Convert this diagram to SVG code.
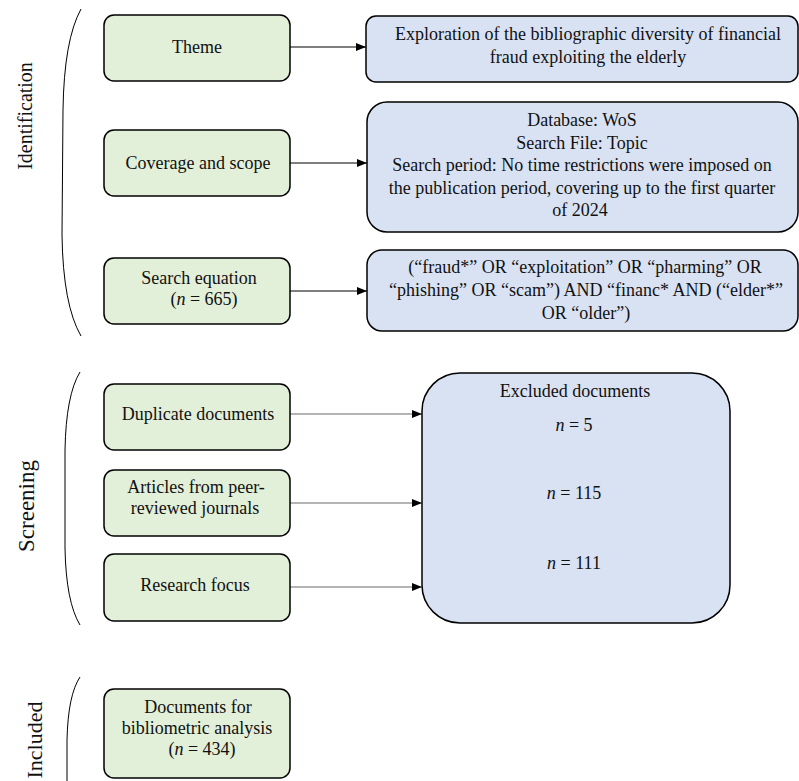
<svg xmlns="http://www.w3.org/2000/svg" width="799" height="781" viewBox="0 0 799 781">
  <defs>
    <marker id="arrow" viewBox="0 0 10 8" refX="10" refY="4" markerWidth="10" markerHeight="8" markerUnits="userSpaceOnUse" orient="auto">
      <path d="M0,0 L10,4 L0,8 Z" fill="#000"/>
    </marker>
    <style>
      text { font-family: "Liberation Serif", "Times New Roman", serif; font-size: 18px; fill: #111; text-anchor: middle; }
      .stage { font-size: 23px; }
      .green rect { fill: #E2EFD9; stroke: #000; stroke-width: 1.5; }
      .blue rect { fill: #D9E2F3; stroke: #000; stroke-width: 1.5; }
      .brace { fill: none; stroke: #000; stroke-width: 1; }
      .link { fill: none; stroke: #000; stroke-width: 1.2; marker-end: url(#arrow); }
      .link.soft { stroke: #6a6a6a; }
      .it { font-style: italic; }
    </style>
  </defs>

  <rect width="799" height="781" fill="#fff"/>

  <!-- stage labels and braces -->
  <g id="stage-identification">
    <text class="stage" style="font-size:20px" transform="translate(32,116) rotate(-90)">Identification</text>
    <path class="brace" d="M81,9 Q64,40 63,110 L62,235 Q63,305 81,336"/>
  </g>
  <g id="stage-screening">
    <text class="stage" transform="translate(34,506) rotate(-90)">Screening</text>
    <path class="brace" d="M80,372 Q66,395 65,450 L65,548 Q66,602 80,625"/>
  </g>
  <g id="stage-included">
    <text class="stage" style="font-size:22px" transform="translate(42,740) rotate(-90)">Included</text>
    <path class="brace" d="M80,677 Q68,695 67,740 L67,790"/>
  </g>

  <!-- connectors -->
  <g id="connectors">
    <line class="link" x1="290" y1="47" x2="366" y2="47"/>
    <line class="link" x1="290" y1="163" x2="367" y2="163"/>
    <line class="link" x1="290" y1="291" x2="367" y2="291"/>
    <line class="link soft" x1="290" y1="414" x2="422" y2="414"/>
    <line class="link soft" x1="290" y1="503" x2="422" y2="503"/>
    <line class="link soft" x1="290" y1="587" x2="422" y2="587"/>
  </g>

  <!-- identification nodes -->
  <g id="theme" class="green">
    <rect x="104" y="15" width="186" height="66" rx="10"/>
    <text x="197" y="53">Theme</text>
  </g>
  <g id="theme-detail" class="blue">
    <rect x="366" y="16" width="432" height="66" rx="10"/>
    <text x="588" y="40">Exploration of the bibliographic diversity of financial</text>
    <text x="588" y="63">fraud exploiting the elderly</text>
  </g>

  <g id="coverage" class="green">
    <rect x="104" y="130" width="186" height="66" rx="10"/>
    <text x="198" y="169">Coverage and scope</text>
  </g>
  <g id="coverage-detail" class="blue">
    <rect x="367" y="102" width="431" height="130" rx="20"/>
    <text x="582" y="126">Database: WoS</text>
    <text x="582" y="149">Search File: Topic</text>
    <text x="582" y="171">Search period: No time restrictions were imposed on</text>
    <text x="582" y="194">the publication period, covering up to the first quarter</text>
    <text x="580" y="216">of 2024</text>
  </g>

  <g id="search-equation" class="green">
    <rect x="104" y="258" width="186" height="66" rx="10"/>
    <text x="199" y="284">Search equation</text>
    <text x="204" y="305">(<tspan class="it">n</tspan> = 665)</text>
  </g>
  <g id="search-detail" class="blue">
    <rect x="367" y="250" width="431" height="81" rx="15"/>
    <text x="585" y="273">(“fraud*” OR “exploitation” OR “pharming” OR</text>
    <text x="586" y="296">“phishing” OR “scam”) AND “financ* AND (“elder*”</text>
    <text x="586" y="319">OR “older”)</text>
  </g>

  <!-- screening nodes -->
  <g id="duplicates" class="green">
    <rect x="104" y="384" width="186" height="66" rx="10"/>
    <text x="198" y="420">Duplicate documents</text>
  </g>
  <g id="peer-reviewed" class="green">
    <rect x="104" y="470" width="186" height="66" rx="10"/>
    <text x="196" y="493">Articles from peer-</text>
    <text x="195" y="514">reviewed journals</text>
  </g>
  <g id="research-focus" class="green">
    <rect x="104" y="554" width="186" height="67" rx="10"/>
    <text x="195" y="591">Research focus</text>
  </g>
  <g id="excluded" class="blue">
    <rect x="422" y="373" width="308" height="250" rx="38"/>
    <text x="575" y="397">Excluded documents</text>
    <text x="574" y="431"><tspan class="it">n</tspan> = 5</text>
    <text x="574" y="499"><tspan class="it">n</tspan> = 115</text>
    <text x="574" y="569"><tspan class="it">n</tspan> = 111</text>
  </g>

  <!-- included node -->
  <g id="included-docs" class="green">
    <rect x="104" y="689" width="186" height="89" rx="10"/>
    <text x="198" y="713">Documents for</text>
    <text x="197" y="734">bibliometric analysis</text>
    <text x="202" y="755">(<tspan class="it">n</tspan> = 434)</text>
  </g>
</svg>
